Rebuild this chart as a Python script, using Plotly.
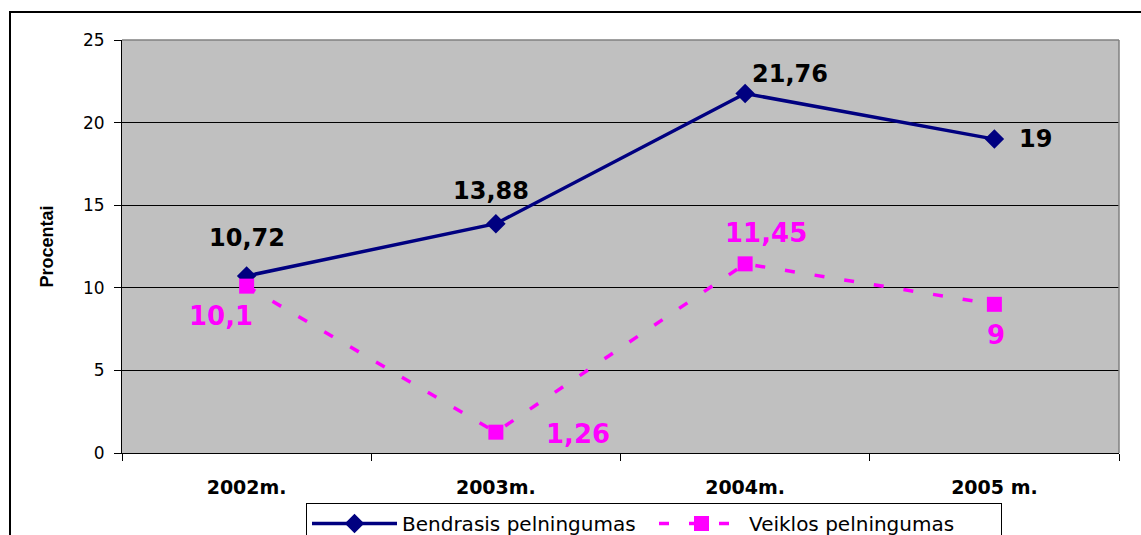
import plotly.graph_objects as go

categories = ["2002m.", "2003m.", "2004m.", "2005 m."]
bendrasis = [10.72, 13.88, 21.76, 19]
veiklos = [10.1, 1.26, 11.45, 9]
y_ticks = [0, 5, 10, 15, 20, 25]

NAVY = "#000080"
MAG = "#FF00FF"


def fmt(v):
    s = ("%g" % v)
    return s.replace(".", ",")


# label offsets (pixels) relative to each point
b_shift = [(0, 38), (-5, 33), (45, 20), (41, 0)]
v_shift = [(-26, -30), (82, -2), (21, 31), (2, -31)]

fig = go.Figure()
fig.add_trace(go.Scatter(
    x=categories, y=bendrasis, name="Bendrasis pelningumas",
    mode="lines+markers",
    line=dict(color=NAVY, width=3.5),
    marker=dict(symbol="diamond", size=15, color=NAVY),
))
fig.add_trace(go.Scatter(
    x=categories, y=veiklos, name="Veiklos pelningumas",
    mode="lines+markers",
    line=dict(color=MAG, width=3.5, dash="10px,20px"),
    marker=dict(symbol="square", size=15, color=MAG),
))

annotations = []
for c, v, (dx, dy) in zip(categories, bendrasis, b_shift):
    annotations.append(dict(x=c, y=v, xref="x", yref="y", text=fmt(v),
                            showarrow=False, xshift=dx, yshift=dy,
                            font=dict(family="DejaVu Sans", size=24, color="black", weight="bold")))
for c, v, (dx, dy) in zip(categories, veiklos, v_shift):
    annotations.append(dict(x=c, y=v, xref="x", yref="y", text=fmt(v),
                            showarrow=False, xshift=dx, yshift=dy,
                            font=dict(family="DejaVu Sans", size=26, color=MAG, weight="bold")))

W, H = 1141, 535
L, R, T, B = 122, 22, 40, 82
pw, ph = W - L - R, H - T - B

shapes = [
    # outer chart border
    dict(type="rect", xref="paper", yref="paper",
         x0=(10 - L) / pw, x1=(W + 10 - L) / pw,
         y0=-(B + 20) / ph, y1=(H - B - 12) / ph,
         line=dict(color="black", width=2), fillcolor="rgba(0,0,0,0)", layer="below"),
    # plot-area top and right borders (gray)
    dict(type="line", xref="paper", yref="paper", x0=0, x1=1, y0=1, y1=1,
         line=dict(color="#808080", width=1.5)),
    dict(type="line", xref="paper", yref="paper", x0=1, x1=1, y0=0, y1=1,
         line=dict(color="#808080", width=1.5)),
]

fig.update_layout(
    width=W, height=H,
    margin=dict(l=L, r=R, t=T, b=B, autoexpand=False),
    paper_bgcolor="white",
    plot_bgcolor="#C0C0C0",
    showlegend=True,
    legend=dict(
        orientation="h", x=(306 - L) / pw, xanchor="left",
        y=-(503 - (H - B)) / ph, yanchor="top",
        bgcolor="white", bordercolor="black", borderwidth=1,
        font=dict(family="DejaVu Sans", size=20, color="black"),
        entrywidth=247, entrywidthmode="pixels",
        itemwidth=85,
    ),
    xaxis=dict(
        type="category", range=[-0.5, 3.5],
        tickson="boundaries", ticks="outside", ticklen=7, tickcolor="black",
        showline=True, linecolor="black", linewidth=1,
        showgrid=False,
        tickfont=dict(family="DejaVu Sans", size=19, color="black", weight="bold"),
        ticklabelstandoff=17,
    ),
    yaxis=dict(
        range=[0, 25], tickvals=y_ticks,
        ticks="outside", ticklen=7, tickcolor="black",
        showline=True, linecolor="black", linewidth=1,
        showgrid=True, gridcolor="black", gridwidth=1,
        zeroline=False,
        tickfont=dict(family="DejaVu Sans", size=17, color="black"),
        ticklabelstandoff=6,
        title=dict(text="Procentai", standoff=24,
                   font=dict(family="Liberation Sans", size=18, color="black", weight="bold")),
    ),
    annotations=annotations,
    shapes=shapes,
)

fig.write_html("out.html")
